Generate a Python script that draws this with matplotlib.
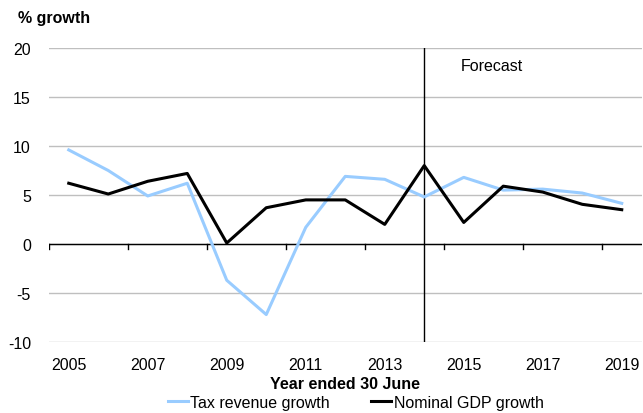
"""
Tax revenue growth vs nominal GDP growth, year ended 30 June.
"""
import matplotlib
matplotlib.use("Agg")
import matplotlib.pyplot as plt
import numpy as np

plt.rcParams["font.family"] = ["Liberation Sans", "DejaVu Sans"]
plt.rcParams["axes.unicode_minus"] = False

# data
years = [2005, 2006, 2007, 2008, 2009, 2010, 2011, 2012,
         2013, 2014, 2015, 2016, 2017, 2018, 2019]
tax_revenue = [9.6, 7.5, 4.9, 6.2, -3.7, -7.2, 1.7, 6.9,
               6.6, 4.8, 6.8, 5.5, 5.6, 5.2, 4.15]
nominal_gdp = [6.2, 5.1, 6.4, 7.2, 0.1, 3.7, 4.5, 4.5,
               2.0, 8.0, 2.2, 5.9, 5.3, 4.05, 3.5]
forecast_year = 2014

fs = 11.5
x = np.arange(len(years))

fig = plt.figure(figsize=(6.43, 4.14), dpi=100)
ax = fig.add_axes([49/643, 1 - 343/414, (641.5 - 49)/643, (343 - 49)/414])

ax.set_ylim(-10, 20)
ax.set_xlim(-0.5, len(years) - 0.5)
ax.set_yticks(np.arange(-10, 21, 5))
ax.grid(True, axis="y", color="#bfbfbf", linewidth=1.0)
ax.set_axisbelow(True)
for s in ax.spines.values():
    s.set_visible(False)

# zero line with category ticks
ax.axhline(0, color="black", linewidth=1.0, zorder=2)
for b in np.arange(-0.5, len(years) - 1, 2):
    ax.plot([b, b], [0, -0.5], color="black", linewidth=1.0, zorder=2)

ax.plot(x, tax_revenue, color="#99ccff", linewidth=2.2, label="Tax revenue growth", zorder=3)
ax.plot(x, nominal_gdp, color="black", linewidth=2.2, label="Nominal GDP growth", zorder=4)

# forecast divider
fx = years.index(forecast_year)
ax.axvline(fx, color="black", linewidth=1.0, zorder=2)
ax.text(fx + 0.92, 18.2, "Forecast", fontsize=fs, va="center", ha="left")

ax.set_xticks(x[::2])
ax.set_xticklabels([str(y) for y in years[::2]], fontsize=fs)
ax.tick_params(axis="x", length=0, pad=11)
ax.tick_params(axis="y", length=0, pad=13, labelsize=fs)
ax.set_xlabel("Year ended 30 June", fontsize=fs, fontweight="bold", labelpad=3)

fig.text(18/643, 1 - 18/414, "% growth", fontsize=fs, fontweight="bold", va="center", ha="left")

fig.legend(loc="lower center", bbox_to_anchor=(0.553, -0.027), ncol=2, frameon=False,
           fontsize=fs, handlelength=1.25, handletextpad=0.15, columnspacing=2.6)

fig.savefig("out.png", dpi=100)
